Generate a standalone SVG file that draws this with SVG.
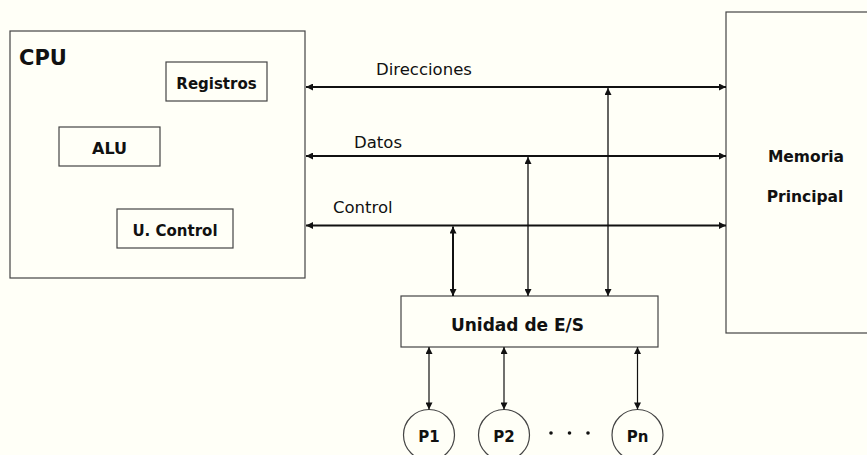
<svg xmlns="http://www.w3.org/2000/svg" width="867" height="455" viewBox="0 0 867 455">
<defs>
<marker id="ah" viewBox="0 0 10 10" refX="10" refY="5" markerWidth="8" markerHeight="7" markerUnits="userSpaceOnUse" orient="auto-start-reverse">
<path d="M0,0 L10,5 L0,10 z" fill="#111"/>
</marker>
<style>
.box{fill:none;stroke:#444;stroke-width:1.2}
.lbl{font-family:"DejaVu Sans","Liberation Sans",sans-serif;font-weight:bold;fill:#111}
.bus{font-family:"DejaVu Sans","Liberation Sans",sans-serif;font-size:16.5px;fill:#111}
.ln{stroke:#111;fill:none;marker-start:url(#ah);marker-end:url(#ah)}
</style>
</defs>
<rect width="867" height="455" fill="#fffff7"/>
<g id="cpu">
<rect class="box" x="10" y="31" width="295" height="247"/>
<text class="lbl" x="19" y="65" font-size="21">CPU</text>
</g>
<g id="registros">
<rect class="box" x="166" y="62" width="101" height="39"/>
<text class="lbl" x="216.5" y="89" font-size="15" text-anchor="middle">Registros</text>
</g>
<g id="alu">
<rect class="box" x="59" y="127" width="101" height="39"/>
<text class="lbl" x="109.5" y="154" font-size="16" text-anchor="middle">ALU</text>
</g>
<g id="ucontrol">
<rect class="box" x="117" y="209" width="116" height="39"/>
<text class="lbl" x="175" y="236" font-size="15" text-anchor="middle">U. Control</text>
</g>
<g id="memoria">
<rect class="box" x="726" y="12" width="200" height="321"/>
<text class="lbl" x="806" y="162" font-size="15.5" text-anchor="middle">Memoria</text>
<text class="lbl" x="805" y="202" font-size="15.5" text-anchor="middle">Principal</text>
</g>
<g id="es">
<rect class="box" x="401" y="296" width="257" height="51"/>
<text class="lbl" x="517.5" y="331" font-size="17" text-anchor="middle">Unidad de E/S</text>
</g>
<g id="p1">
<circle class="box" cx="429" cy="435" r="25.5"/>
<text class="lbl" x="429" y="442" font-size="15" text-anchor="middle">P1</text>
</g>
<g id="p2">
<circle class="box" cx="504" cy="435" r="25.5"/>
<text class="lbl" x="504" y="442" font-size="15" text-anchor="middle">P2</text>
</g>
<g id="pn">
<circle class="box" cx="637.5" cy="435" r="25.5"/>
<text class="lbl" x="637.5" y="442" font-size="15" text-anchor="middle">Pn</text>
</g>
<g id="dots" fill="#111">
<circle cx="551" cy="433" r="1.8"/>
<circle cx="569.5" cy="433" r="1.8"/>
<circle cx="588" cy="433" r="1.8"/>
</g>
<g id="connectors">
<line class="ln" x1="306" y1="87" x2="726" y2="87" stroke-width="2"/>
<line class="ln" x1="306" y1="156" x2="726" y2="156" stroke-width="2"/>
<line class="ln" x1="306" y1="225.5" x2="726" y2="225.5" stroke-width="2"/>
<text class="bus" x="376" y="75">Direcciones</text>
<text class="bus" x="354" y="148">Datos</text>
<text class="bus" x="333" y="213">Control</text>
<line class="ln" x1="608" y1="88" x2="608" y2="296" stroke-width="1.3"/>
<line class="ln" x1="528" y1="157" x2="528" y2="296" stroke-width="1.3"/>
<line class="ln" x1="453" y1="226.5" x2="453" y2="296" stroke-width="2"/>
<line class="ln" x1="429" y1="347" x2="429" y2="409.5" stroke-width="1.2"/>
<line class="ln" x1="504" y1="347" x2="504" y2="409.5" stroke-width="1.2"/>
<line class="ln" x1="637.5" y1="347" x2="637.5" y2="409.5" stroke-width="1.2"/>
</g>
</svg>
